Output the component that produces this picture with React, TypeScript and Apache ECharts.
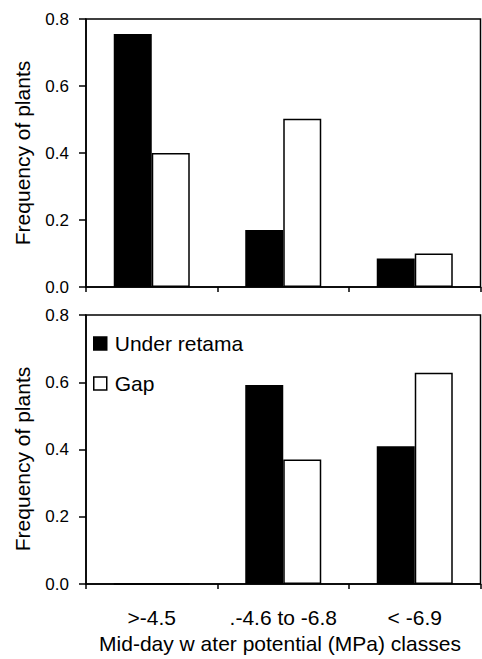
import React, { useEffect, useRef } from "react";
import * as echarts from "echarts";

const categories = [">-4.5", ".-4.6 to -6.8", "< -6.9"];
const topUnder = [0.755, 0.17, 0.085];
const topGap = [0.4, 0.502, 0.1];
const bottomUnder = [0, 0.592, 0.41];
const bottomGap = [0, 0.37, 0.628];
const seriesNames = ["Under retama", "Gap"];
const yTitle = "Frequency of plants";
const xTitle = "Mid-day w ater potential (MPa) classes";

const FONT = "Arial, 'Liberation Sans', Helvetica, sans-serif";

export default function App() {
  const ref = useRef<HTMLDivElement>(null);
  useEffect(() => {
    if (!ref.current) return;
    const chart = echarts.init(ref.current, undefined, { renderer: "svg" });
    const yAxisBase = (gi: number) => ({
      type: "value",
      gridIndex: gi,
      min: 0,
      max: 0.8,
      interval: 0.2,
      splitLine: { show: false },
      axisLine: { show: true, lineStyle: { color: "#000", width: 1.5 } },
      axisTick: { show: true, inside: false, length: 7, lineStyle: { color: "#000", width: 1.5 } },
      axisLabel: {
        color: "#000",
        fontSize: 17,
        fontFamily: FONT,
        margin: 17,
        formatter: (v: number) => v.toFixed(1),
      },
    });
    const xAxisBase = (gi: number, showLabel: boolean) => ({
      type: "category",
      gridIndex: gi,
      data: categories,
      boundaryGap: true,
      axisLine: { show: true, lineStyle: { color: "#000", width: 1.5 } },
      axisTick: { show: true, alignWithLabel: false, length: 5, lineStyle: { color: "#000", width: 1.5 } },
      axisLabel: {
        show: showLabel,
        color: "#000",
        fontSize: 21,
        fontFamily: FONT,
        margin: 23,
        interval: 0,
      },
    });
    const blackStyle = { color: "#000", borderColor: "#000", borderWidth: 1.5 };
    const whiteStyle = { color: "#fff", borderColor: "#000", borderWidth: 1.5 };
    const bar = (name: string, data: number[], gi: number, style: any) => ({
      type: "bar",
      name,
      xAxisIndex: gi,
      yAxisIndex: gi,
      data,
      barWidth: 38,
      barGap: "0%",
      itemStyle: style,
      emphasis: { disabled: true },
    });
    chart.setOption({
      animation: false,
      textStyle: { fontFamily: FONT },
      grid: [
        { left: 86, right: 1.5, top: 19, height: 268, show: true, borderColor: "#000", borderWidth: 1.5, backgroundColor: "transparent" },
        { left: 86, right: 1.5, top: 315, height: 269, show: true, borderColor: "#000", borderWidth: 1.5, backgroundColor: "transparent" },
      ],
      xAxis: [xAxisBase(0, false), xAxisBase(1, true)],
      yAxis: [yAxisBase(0), yAxisBase(1)],
      legend: {
        orient: "vertical",
        left: 93,
        top: 333,
        padding: 0,
        itemWidth: 13,
        itemHeight: 13,
        itemGap: 19,
        icon: "rect",
        textStyle: { fontSize: 21, color: "#000", fontFamily: FONT, padding: [0, 0, 0, 3] },
        data: [
          { name: seriesNames[0], itemStyle: { color: "#000", borderColor: "#000", borderWidth: 1.5 } },
          { name: seriesNames[1], itemStyle: { color: "#fff", borderColor: "#000", borderWidth: 1.5 } },
        ],
        selectedMode: false,
      },
      graphic: [
        {
          type: "text",
          x: 22,
          y: 153,
          rotation: Math.PI / 2,
          style: { text: yTitle, fill: "#000", fontSize: 21, fontFamily: FONT, align: "center", verticalAlign: "middle" },
        },
        {
          type: "text",
          x: 22,
          y: 459,
          rotation: Math.PI / 2,
          style: { text: yTitle, fill: "#000", fontSize: 21, fontFamily: FONT, align: "center", verticalAlign: "middle" },
        },
        {
          type: "text",
          x: 280,
          y: 643,
          style: { text: xTitle, fill: "#000", fontSize: 21, fontFamily: FONT, align: "center", verticalAlign: "middle" },
        },
      ],
      series: [
        bar(seriesNames[0], topUnder, 0, blackStyle),
        bar(seriesNames[1], topGap, 0, whiteStyle),
        bar(seriesNames[0], bottomUnder, 1, blackStyle),
        bar(seriesNames[1], bottomGap, 1, whiteStyle),
      ],
    });
    return () => chart.dispose();
  }, []);
  return (
    <div
      ref={ref}
      style={{ position: "fixed", left: 0, top: 0, width: 482, height: 659, background: "#fff" }}
    />
  );
}
